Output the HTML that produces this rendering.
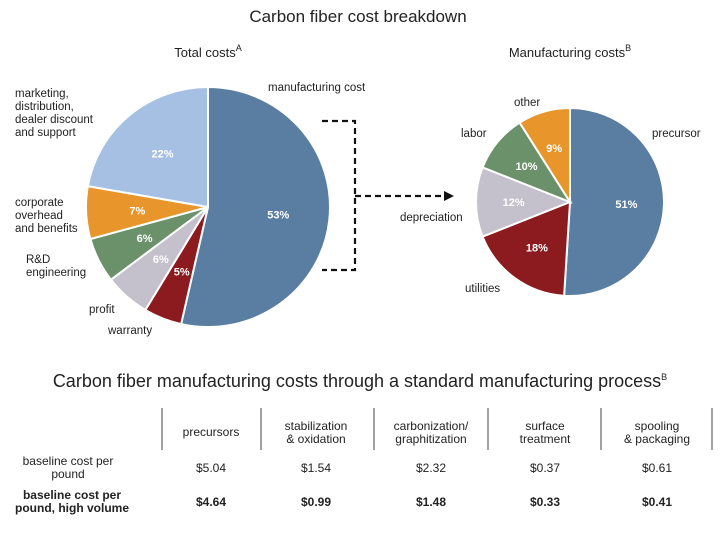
<!DOCTYPE html>
<html><head><meta charset="utf-8"><style>
body{margin:0;background:#fff;}
svg text{font-family:"Liberation Sans",sans-serif;fill:#222;}
</style></head><body>
<svg width="720" height="540" viewBox="0 0 720 540">
<text x="358" y="22" font-size="17" text-anchor="middle">Carbon fiber cost breakdown</text>
<text x="208" y="57" font-size="13" text-anchor="middle">Total costs<tspan dy="-6" font-size="9">A</tspan></text>
<text x="570" y="57" font-size="13" text-anchor="middle">Manufacturing costs<tspan dy="-6" font-size="9">B</tspan></text>
<g id="pie1"></g>
<g id="pie2"></g>
<g font-size="11.5">
<text x="268" y="91">manufacturing cost</text>
<text x="15" y="97">marketing,</text><text x="15" y="110">distribution,</text><text x="15" y="123">dealer discount</text><text x="15" y="136">and support</text>
<text x="15" y="206">corporate</text><text x="15" y="219">overhead</text><text x="15" y="232">and benefits</text>
<text x="26" y="263">R&amp;D</text><text x="26" y="276">engineering</text>
<text x="89" y="313">profit</text>
<text x="108" y="334">warranty</text>
<text x="514" y="106">other</text>
<text x="461" y="137">labor</text>
<text x="652" y="137">precursor</text>
<text x="400" y="221">depreciation</text>
<text x="465" y="292">utilities</text>
</g>
<g stroke="#111" stroke-width="2.2" stroke-dasharray="6,4" fill="none">
<path d="M322 121 H355 V270 H322"/>
<path d="M355 196 H446"/>
</g>
<polygon points="444,191 454,196 444,201" fill="#111"/>
<text x="360" y="387" font-size="18" text-anchor="middle">Carbon fiber manufacturing costs through a standard manufacturing process<tspan dy="-7" font-size="9">B</tspan></text>
<g stroke="#444" stroke-width="1">
<line x1="162" y1="408" x2="162" y2="450"/><line x1="261" y1="408" x2="261" y2="450"/><line x1="374" y1="408" x2="374" y2="450"/><line x1="488" y1="408" x2="488" y2="450"/><line x1="601" y1="408" x2="601" y2="450"/><line x1="712" y1="408" x2="712" y2="450"/>
</g>
<g font-size="12" text-anchor="middle">
<text x="211" y="436">precursors</text>
<text x="316" y="430">stabilization</text><text x="316" y="443">&amp; oxidation</text>
<text x="431" y="430">carbonization/</text><text x="431" y="443">graphitization</text>
<text x="545" y="430">surface</text><text x="545" y="443">treatment</text>
<text x="657" y="430">spooling</text><text x="657" y="443">&amp; packaging</text>
<text x="68" y="465">baseline cost per</text><text x="68" y="478">pound</text>
<text x="211" y="472">$5.04</text><text x="316" y="472">$1.54</text><text x="431" y="472">$2.32</text><text x="545" y="472">$0.37</text><text x="657" y="472">$0.61</text>
<g font-weight="bold">
<text x="72" y="499">baseline cost per</text><text x="72" y="512">pound, high volume</text>
<text x="211" y="506">$4.64</text><text x="316" y="506">$0.99</text><text x="431" y="506">$1.48</text><text x="545" y="506">$0.33</text><text x="657" y="506">$0.41</text>
</g></g>
</svg>
<script>
const totalCats=["manufacturing cost","warranty","profit","R&D engineering","corporate overhead","marketing"];
const totalVals=[53,5,6,6,7,22];
const mfgCats=["precursor","utilities","depreciation","labor","other"];
const mfgVals=[51,18,12,10,9];
const totalColors=["#5a7ea1","#8c1b1f","#c4c1cc","#6a9169","#e8962b","#a5c0e2"];
const mfgColors=["#5a7ea1","#8c1b1f","#c4c1cc","#6a9169","#e8962b"];
const NS="http://www.w3.org/2000/svg";
function drawPie(gid,cats,vals,colors,cx,cy,rx,ry,lf){
  const g=document.getElementById(gid);
  const sum=vals.reduce((a,b)=>a+b,0);
  let a0=0;
  vals.forEach((v,i)=>{
    const a1=a0+v/sum*2*Math.PI;
    const p=(a)=>[cx+rx*Math.sin(a),cy-ry*Math.cos(a)];
    const s=p(a0),e=p(a1);
    const path=document.createElementNS(NS,"path");
    path.setAttribute("d",`M${cx} ${cy} L${s[0]} ${s[1]} A${rx} ${ry} 0 ${a1-a0>Math.PI?1:0} 1 ${e[0]} ${e[1]} Z`);
    path.setAttribute("fill",colors[i]);
    path.setAttribute("stroke","#fff");
    path.setAttribute("stroke-width","2");
    
    
    g.appendChild(path);
    const m=(a0+a1)/2;
    const t=document.createElementNS(NS,"text");
    t.setAttribute("x",cx+rx*lf*Math.sin(m));
    t.setAttribute("y",cy-ry*lf*Math.cos(m)+4);
    t.setAttribute("text-anchor","middle");
    t.setAttribute("font-size","11");
    t.setAttribute("font-weight","bold");
    t.setAttribute("style","fill:#fff");
    t.textContent=v+"%";
    
    
    g.appendChild(t);
    a0=a1;
  });
}
drawPie("pie1",totalCats,totalVals,totalColors,208,207,122,120,0.58);
drawPie("pie2",mfgCats,mfgVals,mfgColors,570,202,94,94,0.6);
</script>
</body></html>
